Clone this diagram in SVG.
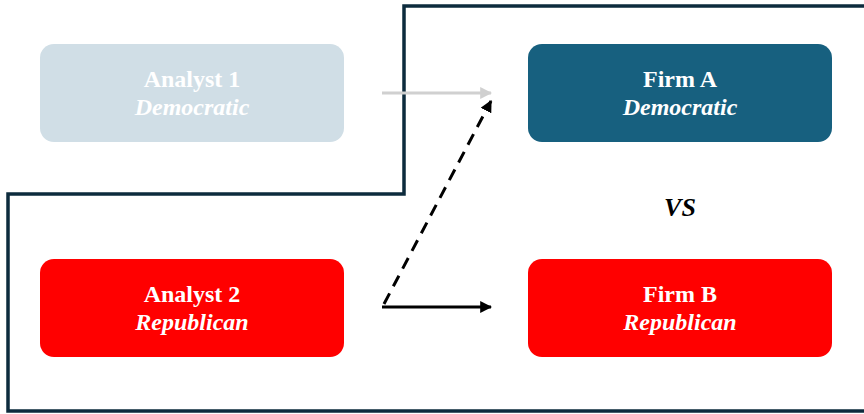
<svg xmlns="http://www.w3.org/2000/svg" width="864" height="414" viewBox="0 0 864 414">
<style>
.box{stroke:none}
.t{font-family:"Liberation Serif","Times New Roman",serif;font-size:24px;font-weight:bold;fill:#ffffff;text-anchor:middle}
.i{font-style:italic}
.conn{fill:none;stroke-width:3}
</style>
<defs>
<marker id="ag" viewBox="0 0 10 10" refX="9" refY="5" markerWidth="4" markerHeight="4" orient="auto" markerUnits="strokeWidth"><path d="M0,0L10,5L0,10z" fill="#d0d0d0"/></marker>
<marker id="ak" viewBox="0 0 10 10" refX="9" refY="5" markerWidth="4" markerHeight="4" orient="auto" markerUnits="strokeWidth"><path d="M0,0L10,5L0,10z" fill="#000"/></marker>
</defs>
<rect width="864" height="414" fill="#ffffff"/>
<path d="M866,6H404V194H8V411H866" fill="none" stroke="#0d2b3d" stroke-width="3.5"/>
<g id="analyst1"><rect class="box" x="40" y="44" width="304" height="98" rx="14" fill="#d0dee6"/><text class="t" x="192" y="87">Analyst 1</text><text class="t i" x="192" y="115">Democratic</text></g>
<g id="firmA"><rect class="box" x="528" y="44" width="304" height="98" rx="14" fill="#17607f"/><text class="t" x="680" y="87">Firm A</text><text class="t i" x="680" y="115">Democratic</text></g>
<g id="analyst2"><rect class="box" x="40" y="259" width="304" height="98" rx="14" fill="#ff0000"/><text class="t" x="192" y="302">Analyst 2</text><text class="t i" x="192" y="330">Republican</text></g>
<g id="firmB"><rect class="box" x="528" y="259" width="304" height="98" rx="14" fill="#ff0000"/><text class="t" x="680" y="302">Firm B</text><text class="t i" x="680" y="330">Republican</text></g>
<g id="vs"><text class="t i" x="680" y="216" style="fill:#000;font-size:26px">VS</text></g>
<g id="connectors">
<line class="conn" x1="382" y1="93" x2="491" y2="93" stroke="#d0d0d0" marker-end="url(#ag)"/>
<line class="conn" x1="384" y1="304" x2="491" y2="101" stroke="#000" stroke-dasharray="12,8" marker-end="url(#ak)"/>
<line class="conn" x1="382" y1="307" x2="491" y2="307" stroke="#000" marker-end="url(#ak)"/>
</g>
</svg>
